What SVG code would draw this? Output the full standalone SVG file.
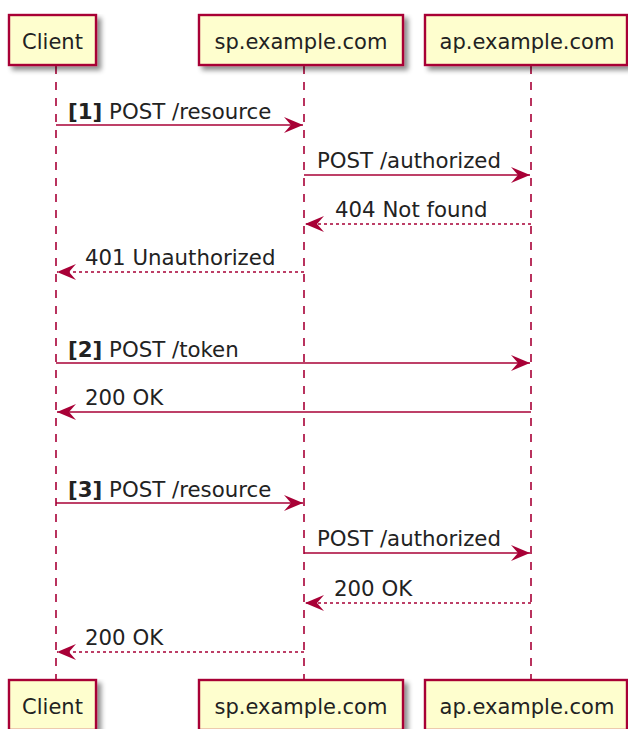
<svg xmlns="http://www.w3.org/2000/svg" width="628" height="729" viewBox="0 0 628 729">
  <defs>
    <filter id="shadow" x="-10%" y="-10%" width="130%" height="140%">
      <feGaussianBlur in="SourceAlpha" stdDeviation="2.5"/>
      <feOffset dx="4" dy="4" result="b"/>
      <feFlood flood-color="#000" flood-opacity="0.45"/>
      <feComposite in2="b" operator="in"/>
      <feMerge><feMergeNode/><feMergeNode in="SourceGraphic"/></feMerge>
    </filter>
    <marker id="arrow" viewBox="0 0 20 16" refX="19" refY="8" markerWidth="20" markerHeight="16" markerUnits="userSpaceOnUse" orient="auto">
      <path d="M0,0 L19,8 L0,16 L7,8 Z" fill="#A80036"/>
    </marker>
    <style>
      .box { fill: #FEFECE; stroke: #A80036; stroke-width: 2.4; }
      .ptext { font-family: "DejaVu Sans", "Liberation Sans", sans-serif; font-size: 21px; fill: #222; text-anchor: middle; }
      .life { stroke: #A80036; stroke-width: 1.6; stroke-dasharray: 8,8; fill: none; }
      .msg { stroke: #A80036; stroke-width: 1.7; fill: none; marker-end: url(#arrow); }
      .ret { stroke-dasharray: 3,3; }
      .mtext { font-family: "DejaVu Sans", "Liberation Sans", sans-serif; font-size: 21.3px; fill: #222; }
      .num { font-weight: bold; }
    </style>
  </defs>
  <rect width="628" height="729" fill="#ffffff"/>

  <g id="lifelines">
    <line class="life" x1="56" y1="66" x2="56" y2="680"/>
    <line class="life" x1="304" y1="66" x2="304" y2="680"/>
    <line class="life" x1="531" y1="66" x2="531" y2="680"/>
  </g>

  <g id="client-top">
    <rect class="box" x="9" y="15" width="87" height="50" filter="url(#shadow)"/>
    <text class="ptext" x="52.5" y="49">Client</text>
  </g>
  <g id="sp-top">
    <rect class="box" x="199" y="15" width="204" height="50" filter="url(#shadow)"/>
    <text class="ptext" x="301" y="49">sp.example.com</text>
  </g>
  <g id="ap-top">
    <rect class="box" x="425" y="15" width="202" height="50" filter="url(#shadow)"/>
    <text class="ptext" x="527" y="49">ap.example.com</text>
  </g>
  <g id="client-bottom">
    <rect class="box" x="9" y="680" width="87" height="50" filter="url(#shadow)"/>
    <text class="ptext" x="52.5" y="714">Client</text>
  </g>
  <g id="sp-bottom">
    <rect class="box" x="199" y="680" width="204" height="50" filter="url(#shadow)"/>
    <text class="ptext" x="301" y="714">sp.example.com</text>
  </g>
  <g id="ap-bottom">
    <rect class="box" x="425" y="680" width="202" height="50" filter="url(#shadow)"/>
    <text class="ptext" x="527" y="714">ap.example.com</text>
  </g>

  <g id="connectors">
    <line class="msg" x1="56" y1="125" x2="303" y2="125"/>
    <line class="msg" x1="304" y1="175" x2="530" y2="175"/>
    <line class="msg ret" x1="531" y1="224" x2="305" y2="224"/>
    <line class="msg ret" x1="304" y1="272" x2="57" y2="272"/>
    <line class="msg" x1="56" y1="363" x2="530" y2="363"/>
    <line class="msg" x1="531" y1="412" x2="57" y2="412"/>
    <line class="msg" x1="56" y1="503" x2="303" y2="503"/>
    <line class="msg" x1="304" y1="553" x2="530" y2="553"/>
    <line class="msg ret" x1="531" y1="603" x2="305" y2="603"/>
    <line class="msg ret" x1="304" y1="652" x2="57" y2="652"/>
  </g>

  <g id="labels">
    <text class="mtext" x="68" y="119"><tspan class="num">[1]</tspan> POST /resource</text>
    <text class="mtext" x="317" y="168">POST /authorized</text>
    <text class="mtext" x="335" y="217">404 Not found</text>
    <text class="mtext" x="85" y="265">401 Unauthorized</text>
    <text class="mtext" x="68" y="357"><tspan class="num">[2]</tspan> POST /token</text>
    <text class="mtext" x="85" y="405">200 OK</text>
    <text class="mtext" x="68" y="497"><tspan class="num">[3]</tspan> POST /resource</text>
    <text class="mtext" x="317" y="546">POST /authorized</text>
    <text class="mtext" x="334" y="596">200 OK</text>
    <text class="mtext" x="85" y="645">200 OK</text>
  </g>
</svg>
